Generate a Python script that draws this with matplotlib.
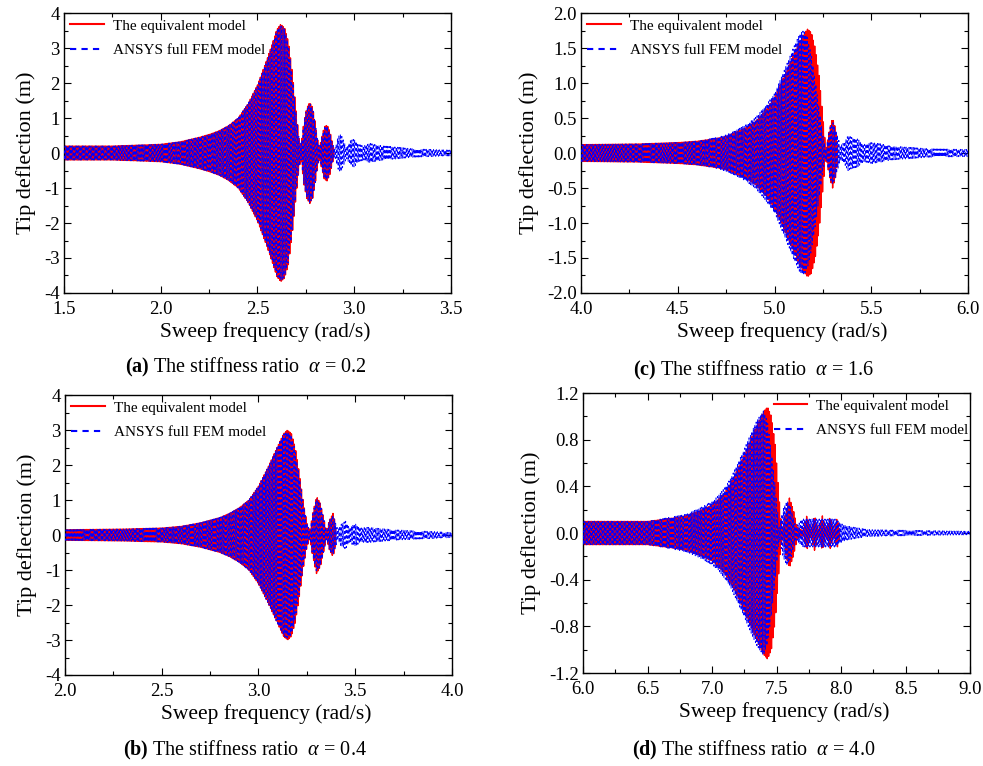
import numpy as np
import matplotlib.pyplot as plt
from matplotlib.ticker import MultipleLocator, FormatStrFormatter

plt.rcParams['font.family'] = ['Liberation Serif', 'DejaVu Serif']
plt.rcParams['mathtext.fontset'] = 'custom'
plt.rcParams['mathtext.rm'] = 'Liberation Serif'
plt.rcParams['mathtext.it'] = 'Liberation Serif:italic'
plt.rcParams['mathtext.bf'] = 'Liberation Serif:bold'
plt.rcParams['axes.unicode_minus'] = False

# envelope knots: (sweep frequency, amplitude)
# (a) alpha = 0.2
a_red_f = [1.5, 1.75, 2.0, 2.1, 2.2, 2.25, 2.3, 2.35, 2.4, 2.45, 2.5, 2.55, 2.58,
           2.6, 2.62, 2.64, 2.66, 2.68, 2.7, 2.715, 2.725, 2.74, 2.755, 2.77,
           2.785, 2.8, 2.81, 2.82, 2.83, 2.845, 2.86, 2.875, 2.885, 2.895]
a_red_amp = [0.2, 0.2, 0.25, 0.32, 0.45, 0.53, 0.63, 0.78, 1.0, 1.4, 1.95, 2.7, 3.2,
             3.55, 3.7, 3.6, 3.2, 2.3, 1.2, 0.4, 0.2, 0.9, 1.3, 1.45,
             1.3, 0.8, 0.4, 0.15, 0.4, 0.75, 0.8, 0.6, 0.35, 0.1]
a_blue_f = [1.5, 1.75, 2.0, 2.1, 2.2, 2.25, 2.3, 2.35, 2.4, 2.45, 2.5, 2.55, 2.58,
            2.6, 2.62, 2.64, 2.66, 2.68, 2.7, 2.715, 2.725, 2.74, 2.755, 2.77,
            2.785, 2.8, 2.81, 2.82, 2.83, 2.845, 2.86, 2.875, 2.885, 2.9, 2.915,
            2.93, 2.945, 2.96, 2.98, 3.0, 3.02, 3.05, 3.08, 3.1, 3.15, 3.2, 3.3,
            3.4, 3.5]
a_blue_amp = [0.2, 0.2, 0.25, 0.32, 0.45, 0.53, 0.63, 0.78, 1.0, 1.4, 1.92, 2.65, 3.15,
              3.5, 3.65, 3.55, 3.1, 2.2, 1.1, 0.4, 0.2, 0.9, 1.28, 1.42,
              1.28, 0.8, 0.4, 0.15, 0.4, 0.72, 0.78, 0.55, 0.3, 0.1, 0.45,
              0.55, 0.35, 0.15, 0.35, 0.4, 0.25, 0.2, 0.28, 0.25, 0.2, 0.18, 0.12,
              0.1, 0.08]

# (b) alpha = 0.4
b_red_f = [2.0, 2.3, 2.5, 2.6, 2.7, 2.8, 2.85, 2.9, 2.95, 3.0, 3.05, 3.1, 3.13,
           3.15, 3.17, 3.19, 3.21, 3.23, 3.25, 3.265, 3.28, 3.3, 3.32, 3.34,
           3.352, 3.365, 3.385, 3.395, 3.4]
b_red_amp = [0.15, 0.17, 0.2, 0.25, 0.35, 0.5, 0.62, 0.78, 1.0, 1.4, 1.95, 2.55, 2.9,
             3.0, 2.9, 2.5, 1.8, 1.0, 0.35, 0.1, 0.6, 1.1, 0.9, 0.4,
             0.1, 0.4, 0.62, 0.4, 0.2]
b_blue_f = [2.0, 2.3, 2.5, 2.6, 2.7, 2.8, 2.85, 2.9, 2.95, 3.0, 3.05, 3.1, 3.13,
            3.15, 3.17, 3.19, 3.21, 3.23, 3.25, 3.265, 3.28, 3.3, 3.32, 3.34,
            3.352, 3.365, 3.385, 3.395, 3.41, 3.425, 3.45, 3.47, 3.49, 3.5,
            3.53, 3.56, 3.6, 3.7, 3.8, 3.9, 4.0]
b_blue_amp = [0.15, 0.17, 0.2, 0.25, 0.35, 0.5, 0.62, 0.78, 1.0, 1.4, 1.95, 2.55, 2.88,
              2.95, 2.85, 2.4, 1.7, 0.95, 0.35, 0.1, 0.6, 1.05, 0.88, 0.4,
              0.1, 0.4, 0.58, 0.4, 0.15, 0.3, 0.4, 0.2, 0.3, 0.32,
              0.2, 0.22, 0.2, 0.15, 0.12, 0.1, 0.07]

# (c) alpha = 1.6
c_red_f = [4.0, 4.3, 4.5, 4.6, 4.7, 4.75, 4.8, 4.85, 4.9, 4.95, 5.0, 5.05, 5.1,
           5.14, 5.17, 5.19, 5.21, 5.23, 5.25, 5.265, 5.285, 5.3, 5.315, 5.325]
c_red_amp = [0.12, 0.13, 0.15, 0.17, 0.21, 0.24, 0.3, 0.36, 0.45, 0.6, 0.8, 1.1, 1.42,
             1.65, 1.77, 1.72, 1.5, 1.1, 0.5, 0.05, 0.35, 0.5, 0.35, 0.15]
c_blue_f = [4.0, 4.3, 4.5, 4.6, 4.7, 4.75, 4.8, 4.85, 4.9, 4.95, 5.0, 5.05, 5.1,
            5.13, 5.15, 5.17, 5.19, 5.21, 5.23, 5.25, 5.265, 5.285, 5.3, 5.32,
            5.34, 5.36, 5.38, 5.4, 5.43, 5.46, 5.5, 5.55, 5.6, 5.7, 5.8, 6.0]
c_blue_amp = [0.12, 0.13, 0.15, 0.17, 0.22, 0.26, 0.32, 0.4, 0.5, 0.66, 0.85, 1.18, 1.52,
              1.7, 1.75, 1.65, 1.4, 1.05, 0.65, 0.25, 0.05, 0.35, 0.45, 0.3,
              0.1, 0.15, 0.25, 0.22, 0.2, 0.12, 0.15, 0.13, 0.1, 0.08, 0.06, 0.05]

# (d) alpha = 4.0
d_red_f = [6.0, 6.5, 6.7, 6.8, 6.9, 7.0, 7.05, 7.1, 7.15, 7.2, 7.25, 7.3, 7.35,
           7.4, 7.43, 7.46, 7.49, 7.51, 7.53, 7.545, 7.575, 7.6, 7.63, 7.66,
           7.705, 7.735, 7.765, 7.795, 7.825, 7.855, 7.885, 7.915, 7.943, 7.97,
           7.99]
d_red_amp = [0.1, 0.1, 0.13, 0.15, 0.19, 0.24, 0.29, 0.35, 0.44, 0.55, 0.67, 0.8, 0.93,
             1.04, 1.08, 1.0, 0.75, 0.45, 0.15, 0.02, 0.2, 0.3, 0.2, 0.05,
             0.02, 0.15, 0.02, 0.15, 0.02, 0.15, 0.02, 0.14, 0.02, 0.13,
             0.02]
d_blue_f = [6.0, 6.5, 6.7, 6.8, 6.9, 7.0, 7.05, 7.1, 7.15, 7.2, 7.25, 7.3, 7.35,
            7.4, 7.43, 7.46, 7.49, 7.52, 7.55, 7.58, 7.61, 7.65, 7.7, 7.8, 7.9,
            7.96, 8.0, 8.05, 8.1, 8.2, 8.4, 8.7, 9.0]
d_blue_amp = [0.1, 0.1, 0.14, 0.16, 0.21, 0.27, 0.32, 0.39, 0.48, 0.6, 0.72, 0.85, 0.97,
              1.05, 0.95, 0.7, 0.4, 0.05, 0.2, 0.28, 0.22, 0.05, 0.12, 0.12, 0.12,
              0.12, 0.08, 0.06, 0.05, 0.03, 0.025, 0.02, 0.015]

panels = [
    dict(pos=[0.0651, 0.6175, 0.3937, 0.3655], xlim=(1.5, 3.5), ylim=(-4, 4),
         xmaj=0.5, ymaj=1, yfmt='%d', caption='(a)', alpha='0.2',
         red=(a_red_f, a_red_amp), blue=(a_blue_f, a_blue_amp),
         cap_xy=(246, 367), legend_loc='upper left', legend_anchor=None),
    dict(pos=[0.5911, 0.6175, 0.3937, 0.3655], xlim=(4.0, 6.0), ylim=(-2, 2),
         xmaj=0.5, ymaj=0.5, yfmt='%.1f', caption='(c)', alpha='1.6',
         red=(c_red_f, c_red_amp), blue=(c_blue_f, c_blue_amp),
         cap_xy=(754, 370), legend_loc='upper left', legend_anchor=None),
    dict(pos=[0.0661, 0.1188, 0.3937, 0.3655], xlim=(2.0, 4.0), ylim=(-4, 4),
         xmaj=0.5, ymaj=1, yfmt='%d', caption='(b)', alpha='0.4',
         red=(b_red_f, b_red_amp), blue=(b_blue_f, b_blue_amp),
         cap_xy=(245, 750), legend_loc='upper left', legend_anchor=None),
    dict(pos=[0.5931, 0.1214, 0.3937, 0.3655], xlim=(6.0, 9.0), ylim=(-1.2, 1.2),
         xmaj=0.5, ymaj=0.4, yfmt='%.1f', caption='(d)', alpha='4.0',
         red=(d_red_f, d_red_amp), blue=(d_blue_f, d_blue_amp),
         cap_xy=(754, 750), legend_loc='upper right', legend_anchor=(1.012, 1.0)),
]

W, H = 983, 766
fig = plt.figure(figsize=(W / 100, H / 100), dpi=100)

n_cycles = 270

for p in panels:
    ax = fig.add_axes(p['pos'])
    x0, x1 = p['xlim']
    span = x1 - x0

    # red: equivalent model
    rf, ra = p['red']
    xr = np.linspace(x0, rf[-1], int(n_cycles * 24 * (rf[-1] - x0) / span))
    yr = np.interp(xr, rf, ra) * np.cos(2 * np.pi * n_cycles * (xr - x0) / span)
    ax.plot(xr, yr, color='#ff0000', lw=1.0, label='The equivalent model', zorder=2)

    # blue: ANSYS full FEM model
    bf, ba = p['blue']
    xb = np.linspace(x0, bf[-1], n_cycles * 24)
    yb = np.interp(xb, bf, ba) * np.cos(2 * np.pi * n_cycles * (xb - x0) / span + 1.2)
    ax.plot(xb, yb, color='#0000ff', lw=0.7, ls=(0, (3, 2.5)),
            label='ANSYS full FEM model', zorder=3)

    ax.set_xlim(x0, x1)
    ax.set_ylim(*p['ylim'])
    ax.xaxis.set_major_locator(MultipleLocator(p['xmaj']))
    ax.xaxis.set_minor_locator(MultipleLocator(p['xmaj'] / 2))
    ax.yaxis.set_major_locator(MultipleLocator(p['ymaj']))
    ax.yaxis.set_minor_locator(MultipleLocator(p['ymaj'] / 2))
    ax.xaxis.set_major_formatter(FormatStrFormatter('%.1f'))
    ax.yaxis.set_major_formatter(FormatStrFormatter(p['yfmt']))
    ax.tick_params(which='both', direction='in', top=True, right=True,
                   labelsize=13.5, width=0.8)
    ax.tick_params(axis='x', which='major', pad=6)
    ax.tick_params(axis='y', which='major', pad=3)
    ax.tick_params(which='major', length=5)
    ax.tick_params(which='minor', length=3)
    for s in ax.spines.values():
        s.set_linewidth(1.0)

    ax.set_xlabel('Sweep frequency (rad/s)', fontsize=15.5, labelpad=1)
    ax.xaxis.set_label_coords(0.52, -0.105)
    ax.set_ylabel('Tip deflection (m)', fontsize=16, labelpad=6)

    leg_kw = dict(loc=p['legend_loc'], frameon=False, fontsize=11,
                  handlelength=2.2, handletextpad=0.6, labelspacing=0.7,
                  borderaxespad=0.1, borderpad=0.3)
    if p['legend_anchor'] is not None:
        leg_kw['bbox_to_anchor'] = p['legend_anchor']
    leg = ax.legend(**leg_kw)
    for h in leg.get_lines():
        h.set_linewidth(1.5)

    cx, cy = p['cap_xy']
    fig.text(cx / W, 1 - cy / H,
             r'$\mathbf{' + p['caption'] + r'}$ The stiffness ratio  $\alpha$ = ' + p['alpha'],
             ha='center', va='center', fontsize=14.5)

fig.savefig('out.png', dpi=100)
